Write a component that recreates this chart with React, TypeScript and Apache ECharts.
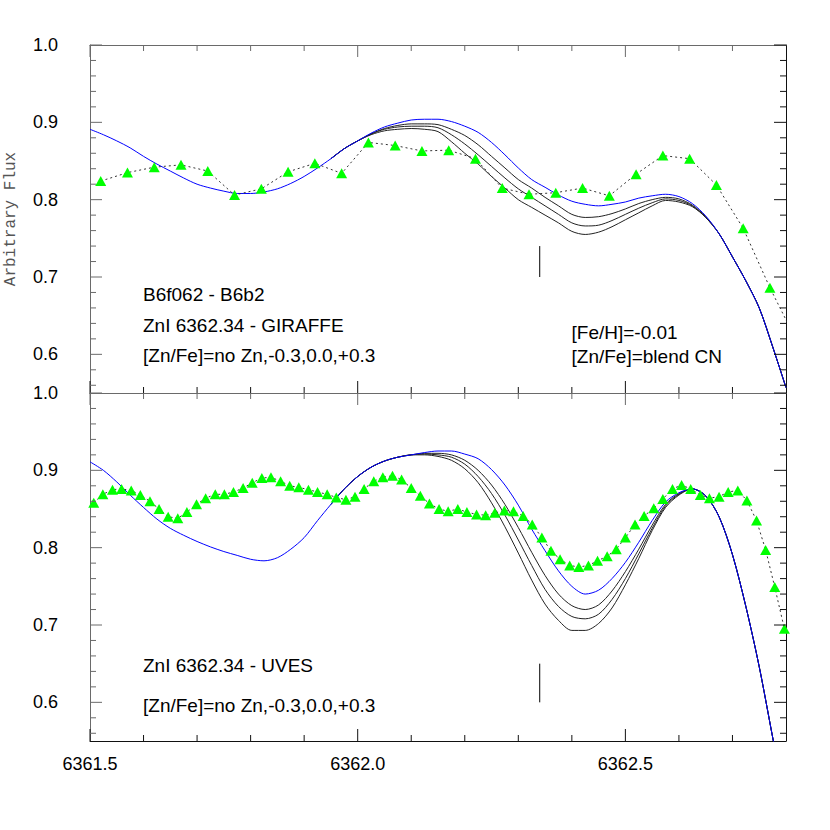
import React, { useEffect, useRef } from "react";
import * as echarts from "echarts";

const X_MIN = 6361.5;
const X_MAX = 6362.8;
const Y_MIN = 0.55;
const Y_MAX = 1.0;

const xMajor = [6361.5, 6362.0, 6362.5];
const xMinor = [6361.6, 6361.7, 6361.8, 6361.9, 6362.1, 6362.2, 6362.3, 6362.4, 6362.6, 6362.7];
const yMajor = [0.6, 0.7, 0.8, 0.9, 1.0];
const yMinor = [0.56, 0.58, 0.62, 0.64, 0.66, 0.68, 0.72, 0.74, 0.76, 0.78, 0.82, 0.84, 0.86, 0.88, 0.92, 0.94, 0.96, 0.98];

// synthetic spectra grid
const modelX = [
  6361.5, 6361.525, 6361.55, 6361.575, 6361.6, 6361.625, 6361.65, 6361.675, 6361.7, 6361.725,
  6361.75, 6361.775, 6361.8, 6361.825, 6361.85, 6361.875, 6361.9, 6361.925, 6361.95, 6361.975,
  6362.0, 6362.025, 6362.05, 6362.075, 6362.1, 6362.125, 6362.15, 6362.175, 6362.2, 6362.225,
  6362.25, 6362.275, 6362.3, 6362.325, 6362.35, 6362.375, 6362.4, 6362.425, 6362.45, 6362.475,
  6362.5, 6362.525, 6362.55, 6362.575, 6362.6, 6362.625, 6362.65, 6362.675, 6362.7, 6362.725,
  6362.75, 6362.775, 6362.8,
];
const topNoZn = [
  0.891, 0.884, 0.876, 0.867, 0.856, 0.846, 0.837, 0.828, 0.82, 0.815,
  0.811, 0.808, 0.808, 0.81, 0.814, 0.821, 0.83, 0.841, 0.853, 0.866,
  0.876, 0.886, 0.894, 0.899, 0.903, 0.904, 0.904, 0.901, 0.895, 0.887,
  0.874, 0.858, 0.841, 0.826, 0.816, 0.806, 0.798, 0.794, 0.792, 0.794,
  0.797, 0.802, 0.805, 0.807, 0.804, 0.795, 0.779, 0.756, 0.726, 0.695,
  0.66, 0.61, 0.557,
];
const botNoZn = [
  0.911, 0.9, 0.885, 0.868, 0.852, 0.837, 0.825, 0.816, 0.808, 0.801,
  0.795, 0.79, 0.785, 0.783, 0.787, 0.798, 0.813, 0.835, 0.856, 0.876,
  0.892, 0.904, 0.912, 0.917, 0.92, 0.923, 0.925, 0.925, 0.921, 0.915,
  0.901, 0.881, 0.855, 0.824, 0.796, 0.77, 0.75, 0.74, 0.745, 0.76,
  0.781, 0.807, 0.835, 0.859, 0.871, 0.876, 0.867, 0.84, 0.791, 0.724,
  0.646, 0.555, 0.465,
];

const znX = [
  6361.95, 6361.975, 6362.0, 6362.025, 6362.05, 6362.075, 6362.1, 6362.125, 6362.15, 6362.175,
  6362.2, 6362.225, 6362.25, 6362.275, 6362.3, 6362.325, 6362.35, 6362.375, 6362.4, 6362.425,
  6362.45, 6362.475, 6362.5, 6362.525, 6362.55, 6362.575, 6362.6, 6362.625, 6362.65, 6362.675,
  6362.7, 6362.725, 6362.75, 6362.775, 6362.8,
];
const topZnM03 = [
  0.853, 0.866, 0.876, 0.885, 0.892, 0.896, 0.898, 0.898, 0.897, 0.891,
  0.883, 0.871, 0.856, 0.841, 0.826, 0.815, 0.803, 0.792, 0.781, 0.777,
  0.778, 0.782, 0.788, 0.795, 0.8, 0.803, 0.801, 0.793, 0.778, 0.756,
  0.726, 0.695, 0.66, 0.61, 0.557,
];
const topZn00 = [
  0.853, 0.866, 0.876, 0.885, 0.891, 0.894, 0.895, 0.895, 0.893, 0.884,
  0.872, 0.858, 0.843, 0.828, 0.814, 0.803, 0.792, 0.781, 0.77, 0.766,
  0.767, 0.773, 0.781, 0.789, 0.796, 0.801, 0.799, 0.792, 0.777, 0.756,
  0.726, 0.695, 0.66, 0.61, 0.557,
];
const topZnP03 = [
  0.853, 0.866, 0.876, 0.884, 0.889, 0.891, 0.892, 0.891, 0.888, 0.875,
  0.86, 0.846, 0.83, 0.815, 0.8, 0.79, 0.78, 0.77, 0.759, 0.755,
  0.758, 0.765, 0.774, 0.783, 0.792, 0.799, 0.797, 0.791, 0.777, 0.756,
  0.726, 0.695, 0.66, 0.61, 0.557,
];
const botZnM03 = [
  0.856, 0.876, 0.892, 0.904, 0.912, 0.917, 0.92, 0.922, 0.922, 0.92,
  0.913, 0.9, 0.881, 0.856, 0.826, 0.794, 0.764, 0.74, 0.725, 0.72,
  0.726, 0.744, 0.769, 0.798, 0.829, 0.856, 0.87, 0.876, 0.867, 0.84,
  0.791, 0.724, 0.646, 0.555, 0.465,
];
const botZn00 = [
  0.856, 0.876, 0.892, 0.904, 0.912, 0.917, 0.92, 0.921, 0.92, 0.917,
  0.908, 0.892, 0.87, 0.842, 0.81, 0.777, 0.746, 0.724, 0.711, 0.708,
  0.714, 0.733, 0.76, 0.792, 0.825, 0.854, 0.869, 0.876, 0.867, 0.84,
  0.791, 0.724, 0.646, 0.555, 0.465,
];
const botZnP03 = [
  0.856, 0.876, 0.892, 0.904, 0.912, 0.917, 0.92, 0.92, 0.918, 0.913,
  0.902, 0.884, 0.858, 0.827, 0.793, 0.758, 0.727, 0.706, 0.693, 0.693,
  0.702, 0.722, 0.752, 0.786, 0.822, 0.852, 0.868, 0.876, 0.867, 0.84,
  0.791, 0.724, 0.646, 0.555, 0.465,
];

// observed spectra
const girX = [
  6361.52, 6361.57, 6361.62, 6361.67, 6361.72, 6361.77, 6361.82, 6361.87, 6361.92, 6361.97,
  6362.02, 6362.07, 6362.12, 6362.17, 6362.22, 6362.27, 6362.32, 6362.37, 6362.42, 6362.47,
  6362.52, 6362.57, 6362.62, 6362.67, 6362.72, 6362.77, 6362.82,
];
const girFlux = [
  0.824, 0.835, 0.842, 0.845, 0.837, 0.806, 0.814, 0.836, 0.847, 0.834,
  0.874, 0.87, 0.863, 0.864, 0.853, 0.815, 0.807, 0.809, 0.815, 0.805,
  0.833, 0.857, 0.853, 0.819, 0.763, 0.686, 0.617,
];
const uvesX = [
  6361.507, 6361.524, 6361.542, 6361.559, 6361.577, 6361.594, 6361.612, 6361.629, 6361.646, 6361.664,
  6361.681, 6361.699, 6361.716, 6361.734, 6361.751, 6361.768, 6361.786, 6361.803, 6361.821, 6361.838,
  6361.856, 6361.873, 6361.89, 6361.908, 6361.925, 6361.943, 6361.96, 6361.978, 6361.995, 6362.012,
  6362.03, 6362.047, 6362.065, 6362.082, 6362.1, 6362.117, 6362.134, 6362.152, 6362.169, 6362.187,
  6362.204, 6362.222, 6362.239, 6362.256, 6362.274, 6362.291, 6362.309, 6362.326, 6362.344, 6362.361,
  6362.378, 6362.396, 6362.413, 6362.431, 6362.448, 6362.466, 6362.483, 6362.5, 6362.518, 6362.535,
  6362.553, 6362.57, 6362.588, 6362.605, 6362.622, 6362.64, 6362.657, 6362.675, 6362.692, 6362.71,
  6362.727, 6362.745, 6362.762, 6362.779, 6362.797,
];
const uvesFlux = [
  0.858, 0.869, 0.875, 0.876, 0.874, 0.868, 0.86, 0.85, 0.84, 0.838,
  0.846, 0.856, 0.864, 0.869, 0.869, 0.872, 0.877, 0.884, 0.89, 0.891,
  0.886, 0.88, 0.878, 0.875, 0.872, 0.869, 0.865, 0.862, 0.866, 0.876,
  0.886, 0.891, 0.893, 0.888, 0.877, 0.867, 0.857, 0.85, 0.847, 0.85,
  0.846, 0.843, 0.842, 0.845, 0.848, 0.847, 0.841, 0.83, 0.813, 0.796,
  0.785, 0.777, 0.775, 0.777, 0.783, 0.789, 0.798, 0.813, 0.83, 0.841,
  0.851, 0.863, 0.876, 0.881, 0.876, 0.868, 0.864, 0.866, 0.872, 0.874,
  0.861, 0.835, 0.797, 0.749, 0.695,
];

// Zn line position marks
const topMarkX = [6362.34, 6362.34];
const topMarkY = [0.7, 0.74];
const botMarkX = [6362.34, 6362.34];
const botMarkY = [0.6, 0.65];

const zip = (xs: number[], ys: number[]) => xs.map((x, i) => [x, ys[i]]);

const FONT = '"Liberation Sans", Arial, Helvetica, sans-serif';
const GREY = "#6a6a6a";
const DARK = "#111";

// panel geometry (pixels) and tick lengths (pixels)
const PLOT_W = 696;
const PLOT_H = 348;
const MAJOR_LEN = 12;
const MINOR_LEN = 6;
const X_PER_PX = (X_MAX - X_MIN) / PLOT_W;
const Y_PER_PX = (Y_MAX - Y_MIN) / PLOT_H;

function xAxis(grid: number, pos: string, color: string, labels: boolean) {
  return {
    type: "value",
    gridIndex: grid,
    position: pos,
    min: X_MIN,
    max: X_MAX,
    axisLine: { show: true, onZero: false, lineStyle: { color, width: 1 } },
    axisTick: { show: false },
    axisLabel: labels
      ? { show: true, customValues: xMajor, margin: 14, fontSize: 18, color: "#000", fontFamily: FONT, formatter: (v: number) => v.toFixed(1) }
      : { show: false },
    splitLine: { show: false },
  };
}

function yAxis(grid: number, pos: string, color: string, labels: boolean) {
  return {
    type: "value",
    gridIndex: grid,
    position: pos,
    min: Y_MIN,
    max: Y_MAX,
    axisLine: { show: true, onZero: false, lineStyle: { color, width: 1 } },
    axisTick: { show: false },
    axisLabel: labels
      ? { show: true, customValues: yMajor, margin: 32, fontSize: 18, color: "#000", fontFamily: FONT, formatter: (v: number) => v.toFixed(1) }
      : { show: false },
    splitLine: { show: false },
  };
}

// one short inward segment per tick value, drawn through the panel's scales
function tickLines(xi: number, yi: number, values: number[], side: string, lenPx: number, color: string) {
  return values.map((v) => {
    let seg: number[][];
    if (side === "bottom") seg = [[v, Y_MIN], [v, Y_MIN + lenPx * Y_PER_PX]];
    else if (side === "top") seg = [[v, Y_MAX], [v, Y_MAX - lenPx * Y_PER_PX]];
    else if (side === "left") seg = [[X_MIN, v], [X_MIN + lenPx * X_PER_PX, v]];
    else seg = [[X_MAX, v], [X_MAX - lenPx * X_PER_PX, v]];
    return {
      type: "line",
      xAxisIndex: xi,
      yAxisIndex: yi,
      data: seg,
      symbol: "none",
      silent: true,
      clip: false,
      z: 6,
      lineStyle: { color, width: 1 },
    };
  });
}

function panelTicks(xi: number, yi: number) {
  return [
    ...tickLines(xi, yi, xMajor, "bottom", MAJOR_LEN, DARK),
    ...tickLines(xi, yi, xMinor, "bottom", MINOR_LEN, DARK),
    ...tickLines(xi, yi, xMajor, "top", MAJOR_LEN, GREY),
    ...tickLines(xi, yi, xMinor, "top", MINOR_LEN, GREY),
    ...tickLines(xi, yi, yMajor, "left", MAJOR_LEN, GREY),
    ...tickLines(xi, yi, yMinor, "left", MINOR_LEN, GREY),
    ...tickLines(xi, yi, yMajor, "right", MAJOR_LEN, DARK),
    ...tickLines(xi, yi, yMinor, "right", MINOR_LEN, DARK),
  ];
}

function modelLine(xi: number, yi: number, data: number[][], color: string, z: number, width: number) {
  return {
    type: "line",
    xAxisIndex: xi,
    yAxisIndex: yi,
    data,
    showSymbol: false,
    symbol: "none",
    smooth: 0.3,
    clip: true,
    z,
    lineStyle: { color, width },
  };
}

function obsLine(xi: number, yi: number, data: number[][]) {
  return {
    type: "line",
    xAxisIndex: xi,
    yAxisIndex: yi,
    data,
    symbol: "triangle",
    symbolSize: [11, 10],
    showAllSymbol: true,
    clip: true,
    z: 5,
    itemStyle: { color: "#00ff00", borderWidth: 0 },
    lineStyle: { color: "#333", width: 1, type: [2, 3] },
  };
}

function markLine(xi: number, yi: number, data: number[][]) {
  return {
    type: "line",
    xAxisIndex: xi,
    yAxisIndex: yi,
    data,
    symbol: "none",
    z: 4,
    lineStyle: { color: "#000", width: 1 },
  };
}

export default function App() {
  const ref = useRef<HTMLDivElement>(null);

  useEffect(() => {
    if (!ref.current) return;
    const chart = echarts.init(ref.current, undefined, { renderer: "svg" });
    const TX = 0, TY = 0, BX = 2, BY = 2;
    const textStyle = (text: string) => ({
      text,
      font: `19px ${FONT}`,
      fill: "#000",
      align: "left",
      verticalAlign: "middle",
    });
    chart.setOption({
      animation: false,
      backgroundColor: "#fff",
      grid: [
        { left: 90, top: 45, width: PLOT_W, height: PLOT_H },
        { left: 90, top: 393, width: PLOT_W, height: PLOT_H },
      ],
      xAxis: [
        xAxis(0, "bottom", DARK, false),
        xAxis(0, "top", GREY, false),
        xAxis(1, "bottom", DARK, true),
        xAxis(1, "top", GREY, false),
      ],
      yAxis: [
        yAxis(0, "left", GREY, true),
        yAxis(0, "right", DARK, false),
        yAxis(1, "left", GREY, true),
        yAxis(1, "right", DARK, false),
      ],
      series: [
        modelLine(TX, TY, zip(znX, topZnM03), "#222", 2, 1),
        modelLine(TX, TY, zip(znX, topZn00), "#222", 2, 1),
        modelLine(TX, TY, zip(znX, topZnP03), "#222", 2, 1),
        modelLine(TX, TY, zip(modelX, topNoZn), "#0000ff", 3, 1),
        obsLine(TX, TY, zip(girX, girFlux)),
        markLine(TX, TY, zip(topMarkX, topMarkY)),
        ...panelTicks(TX, TY),
        modelLine(BX, BY, zip(znX, botZnM03), "#222", 2, 1),
        modelLine(BX, BY, zip(znX, botZn00), "#222", 2, 1),
        modelLine(BX, BY, zip(znX, botZnP03), "#222", 2, 1),
        modelLine(BX, BY, zip(modelX, botNoZn), "#0000ff", 3, 1),
        obsLine(BX, BY, zip(uvesX, uvesFlux)),
        markLine(BX, BY, zip(botMarkX, botMarkY)),
        ...panelTicks(BX, BY),
      ],
      graphic: [
        {
          type: "text",
          x: 11,
          y: 219,
          rotation: Math.PI / 2,
          style: {
            text: "Arbitrary Flux",
            font: '16px "Liberation Mono", "Courier New", monospace',
            fill: "#555",
            align: "center",
            verticalAlign: "middle",
          },
        },
        { type: "text", x: 143, y: 294, style: textStyle("B6f062 - B6b2") },
        { type: "text", x: 143, y: 325, style: textStyle("ZnI 6362.34 - GIRAFFE") },
        { type: "text", x: 143, y: 355.5, style: textStyle("[Zn/Fe]=no Zn,-0.3,0.0,+0.3") },
        { type: "text", x: 571.5, y: 332.7, style: textStyle("[Fe/H]=-0.01") },
        { type: "text", x: 571.5, y: 356, style: textStyle("[Zn/Fe]=blend CN") },
        { type: "text", x: 143, y: 665, style: textStyle("ZnI 6362.34 - UVES") },
        { type: "text", x: 143, y: 705, style: textStyle("[Zn/Fe]=no Zn,-0.3,0.0,+0.3") },
      ],
    });
    return () => chart.dispose();
  }, []);

  return (
    <div
      ref={ref}
      style={{ position: "fixed", left: 0, top: 0, width: 830, height: 830, background: "#fff" }}
    />
  );
}
